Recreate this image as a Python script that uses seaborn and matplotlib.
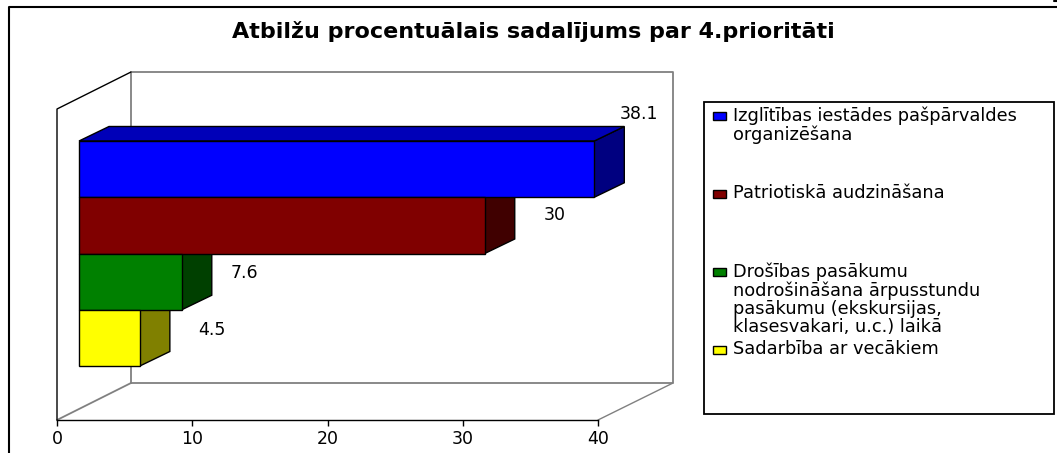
"""
Horizontal bars with a drawn 3D box look, values read from the reference picture.
"""
import matplotlib
matplotlib.use("Agg")
import matplotlib.pyplot as plt
from matplotlib.patches import Polygon, Rectangle
from matplotlib.transforms import Affine2D
import pandas as pd
import seaborn as sns

title = "Atbilžu procentuālais sadalījums par 4.prioritāti"
categories = [
    "Izglītības iestādes pašpārvaldes\norganizēšana",
    "Patriotiskā audzināšana",
    "Drošības pasākumu\nnodrošināšana ārpusstundu\npasākumu (ekskursijas,\nklasesvakari, u.c.) laikā",
    "Sadarbība ar vecākiem",
]
values = [38.1, 30, 7.6, 4.5]
value_labels = ["38.1", "30", "7.6", "4.5"]
front_colors = ["#0000ff", "#800000", "#008000", "#ffff00"]
top_colors = ["#0000b8", "#5c0000", "#005c00", "#b8b800"]
side_colors = ["#000080", "#400000", "#004000", "#808000"]
x_ticks = [0, 10, 20, 30, 40]


def pixel_rect(fig, left, top, right, bottom):
    w, h = fig.get_size_inches() * fig.dpi
    return [left / w, 1 - bottom / h, (right - left) / w, (bottom - top) / h]


def main():
    sns.set_theme(style="white")
    # the reference text is wide, DejaVu Sans comes closest to its proportions
    plt.rcParams["font.family"] = ["DejaVu Sans"]

    fig = plt.figure(figsize=(10.57, 4.53), dpi=100)

    # overlay in picture pixels for the frame, the walls and the legend box
    bg = fig.add_axes([0, 0, 1, 1])
    bg.set_xlim(0, 1057)
    bg.set_ylim(453, 0)
    bg.axis("off")

    bg.plot([9, 9, 1057], [453, 6.5, 6.5], color="black", lw=1.5)
    bg.plot([1054, 1057], [0.5, 0.5], color="black", lw=1.5)
    bg.plot([57, 131, 673, 673, 131, 131], [420, 383, 383, 72, 72, 383], color="#808080", lw=1.3)
    bg.plot([598, 673], [420, 383], color="#808080", lw=1)
    bg.plot([57, 57, 131], [420, 109, 72], color="black", lw=1)

    bg.text(533, 32, title, ha="center", va="center", fontsize=16, fontweight="bold", color="black")

    # legend
    bg.add_patch(Rectangle((704, 102), 350, 312, fc="white", ec="black", lw=1.3))
    for i, (label, color) in enumerate(zip(categories, front_colors)):
        y = 115 + 78 * i
        bg.add_patch(Rectangle((713, y - 3.5), 13, 8, fc=color, ec="black", lw=1))
        bg.text(733, y - 8.5, label, ha="left", va="top", fontsize=12.8, color="black", linespacing=1.0)

    ax = fig.add_axes(pixel_rect(fig, 57, 109, 598, 420))
    ax.patch.set_alpha(0)

    df = pd.DataFrame({"category": categories, "value": values})
    sns.barplot(data=df, x="value", y="category", hue="category", palette=front_colors,
                saturation=1, width=1, dodge=False, legend=False, ax=ax, zorder=3)

    px_x = 541 / 40
    px_y = 56.25
    ax.set_xlim(0, 40)
    ax.set_ylim(1.5 + 311 / px_y / 2, 1.5 - 311 / px_y / 2)

    # bars sit 22 px right of and 11 px above the axis plane
    shift = ax.transData + Affine2D().translate(22, 11)
    dx = 30 / px_x
    dy = 14.5 / px_y

    for bar in ax.patches:
        bar.set_transform(shift)
        bar.set_edgecolor("black")
        bar.set_linewidth(1)
        bar.set_clip_on(False)

    # label offsets from the bar's front top right corner, in pixels
    label_dx = [45, 70, 63, 72]
    label_dy = [-27, 18, 19, 20]

    for i, v in enumerate(values):
        top, bottom = i - 0.5, i + 0.5
        side = Polygon([(v, top), (v + dx, top - dy), (v + dx, bottom - dy), (v, bottom)],
                       fc=side_colors[i], ec="black", lw=1, transform=shift, clip_on=False, zorder=2)
        ax.add_patch(side)
        ax.text(v + label_dx[i] / px_x, top + label_dy[i] / px_y, value_labels[i], transform=shift,
                ha="center", va="center", fontsize=12.5, color="black", clip_on=False, zorder=5)

    # only the first bar shows a lid, the others are covered by the bar above
    lid = Polygon([(0, -0.5), (dx, -0.5 - dy), (values[0] + dx, -0.5 - dy), (values[0], -0.5)],
                  fc=top_colors[0], ec="black", lw=1, transform=shift, clip_on=False, zorder=2)
    ax.add_patch(lid)

    ax.set_xticks(x_ticks)
    ax.set_yticks([])
    ax.set_xlabel("")
    ax.set_ylabel("")
    ax.tick_params(axis="x", bottom=True, length=4, width=1, color="black", labelsize=12.5,
                   labelcolor="black", pad=3)
    sns.despine(ax=ax, top=True, right=True, left=True)
    ax.spines["bottom"].set_color("black")
    ax.spines["bottom"].set_linewidth(1)
    ax.grid(False)

    fig.savefig("out.png", dpi=100)


if __name__ == "__main__":
    main()
